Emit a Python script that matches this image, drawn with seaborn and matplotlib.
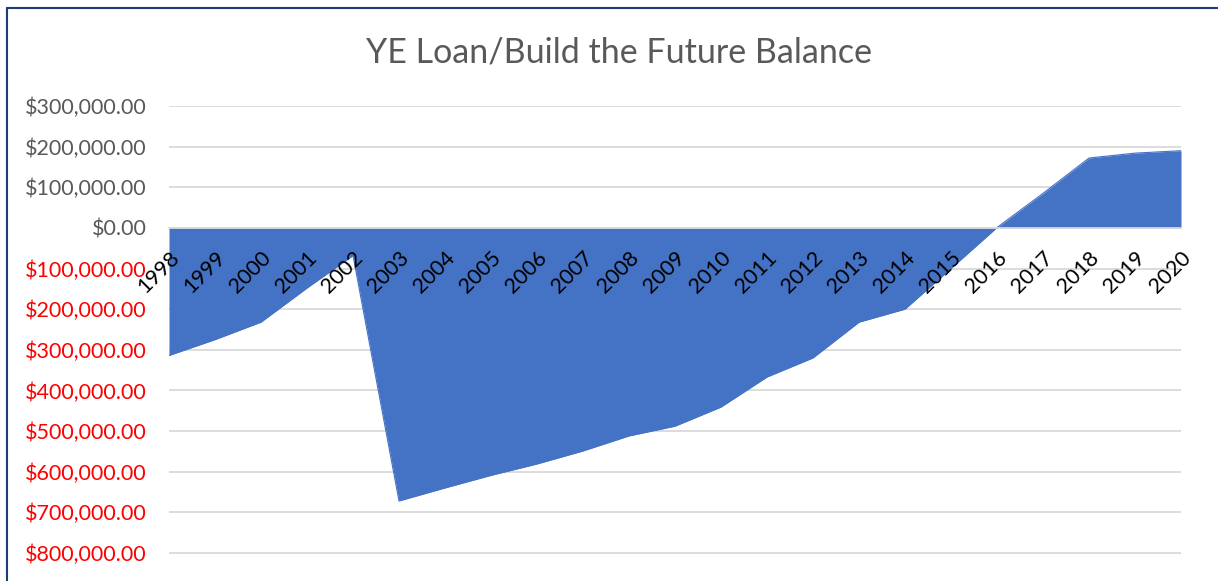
import matplotlib
matplotlib.use("Agg")
import matplotlib.pyplot as plt
from matplotlib.lines import Line2D
from matplotlib.ticker import FuncFormatter
import seaborn as sns
import pandas as pd

years = [1998, 1999, 2000, 2001, 2002, 2003, 2004, 2005, 2006, 2007, 2008,
         2009, 2010, 2011, 2012, 2013, 2014, 2015, 2016, 2017, 2018, 2019, 2020]
balance = [-314000, -275000, -232000, -148000, -68000, -672000, -640000, -609000,
           -581000, -549000, -512000, -488000, -441000, -367000, -320000, -232000,
           -200000, -100000, 1000, 85000, 172000, 184000, 190000]
y_ticks = [300000, 200000, 100000, 0, -100000, -200000, -300000, -400000,
           -500000, -600000, -700000, -800000]
title = "YE Loan/Build the Future Balance"

df = pd.DataFrame({"Year": years, "Balance": balance})

sns.set_theme(style="white")
plt.rcParams["font.family"] = ["Lato", "DejaVu Sans"]

fig = plt.figure(figsize=(12.18, 5.81), dpi=100)
W, H = 1218, 581
left, right, top, bottom_px = 169, 1181, 106, 581
ax = fig.add_axes([left / W, 0, (right - left) / W, (bottom_px - top) / H])

area_color = "#4472C4"
sns.lineplot(data=df, x="Year", y="Balance", ax=ax, color=area_color, linewidth=0.8, zorder=2)
ax.fill_between(df["Year"], df["Balance"], 0, color=area_color, linewidth=0, zorder=2)

ax.set_xlim(years[0], years[-1])
ax.set_ylim(-869000, 300000)

for s in ["top", "right", "left"]:
    ax.spines[s].set_visible(False)
ax.spines["bottom"].set_position(("data", 0))
ax.spines["bottom"].set_color("#D9D9D9")
ax.spines["bottom"].set_linewidth(1.3)
ax.spines["bottom"].set_zorder(3)
ax.set_xlabel("")
ax.set_ylabel("")

# gridlines behind area
for v in y_ticks:
    ax.axhline(v, color="#D9D9D9", linewidth=1.3, zorder=0)
ax.grid(False)
ax.set_axisbelow(False)

ax.set_yticks(y_ticks)
ax.yaxis.set_major_formatter(FuncFormatter(lambda v, p: "${:,.2f}".format(abs(v))))
ax.tick_params(axis="y", length=0, pad=16, labelsize=15.5)
for lbl, v in zip(ax.get_yticklabels(), y_ticks):
    lbl.set_color("#FF0000" if v < 0 else "#595959")

ax.set_xticks(years)
ax.tick_params(axis="x", direction="out", length=4, width=1.3, color="#D9D9D9", pad=10)
ax.set_xticklabels([str(y) for y in years], rotation=45, ha="right", va="top",
                   rotation_mode="anchor", fontsize=15.5, color="black")

fig.text(619 / W, 1 - 52 / H, title, ha="center", va="center", fontsize=24.5, color="#595959")

# chart frame (left and top edges)
fig.add_artist(Line2D([7 / W, 7 / W], [0, 1 - 8 / H], color="#1F3C78", linewidth=1.5, transform=fig.transFigure))
fig.add_artist(Line2D([7 / W, 1], [1 - 8 / H, 1 - 8 / H], color="#1F3C78", linewidth=1.5, transform=fig.transFigure))

fig.savefig("out.png", dpi=100)
